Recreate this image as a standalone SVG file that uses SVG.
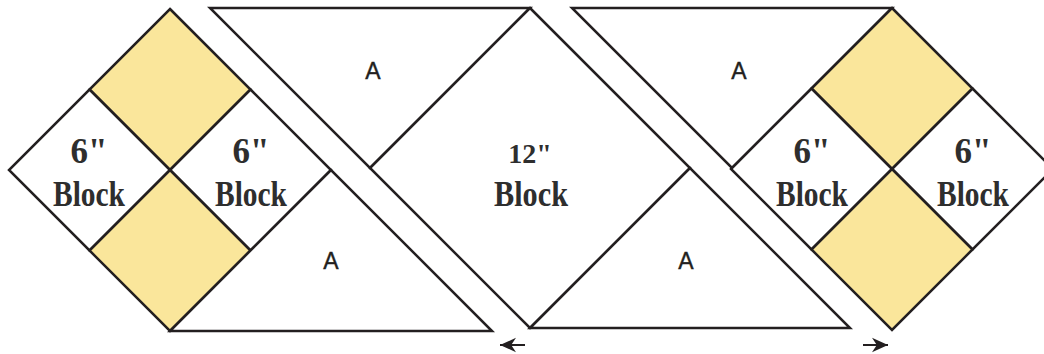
<svg xmlns="http://www.w3.org/2000/svg" width="1044" height="354" viewBox="0 0 1044 354">
<defs>
<style>
.p{fill:#fff;stroke:#231f20;stroke-width:2.5;stroke-linejoin:miter}
.y{fill:#fae69b;stroke:#231f20;stroke-width:2.5}
.t{font-family:"Liberation Serif","DejaVu Serif",serif;font-weight:bold;font-size:35px;fill:#2e2e2e;text-anchor:middle}
.s{font-size:28px}
.a{font-family:"Liberation Sans","Open Sans",sans-serif;font-size:23px;fill:#231f20;text-anchor:middle;stroke:#231f20;stroke-width:0.4}
.c{stroke:#231f20;stroke-width:2;fill:none}
</style>
<marker id="ah" viewBox="0 0 10 10" refX="10" refY="5" markerWidth="8" markerHeight="8" orient="auto" markerUnits="strokeWidth">
<path d="M0,0.5 L10,5 L0,9.5 L3,5 Z" fill="#231f20"/>
</marker>
</defs>
<rect width="1044" height="354" fill="#fff"/>
<g id="left-four-patch">
<polygon class="y" points="170,9 250.5,89.5 170,170 89.5,89.5"/>
<polygon class="p" points="89.5,89.5 170,170 89.5,250.5 9,170"/>
<polygon class="p" points="250.5,89.5 331,170 250.5,250.5 170,170"/>
<polygon class="y" points="170,170 250.5,250.5 170,331 89.5,250.5"/>
<text class="t" x="89" y="163">6"</text>
<text class="t" x="89" y="206" textLength="72" lengthAdjust="spacingAndGlyphs">Block</text>
<text class="t" x="251" y="163">6"</text>
<text class="t" x="251" y="206" textLength="72" lengthAdjust="spacingAndGlyphs">Block</text>
</g>
<g id="triangle-a-upper-left">
<polygon class="p" points="210,8 530,8 370,168"/>
<text class="a" x="373" y="79">A</text>
</g>
<g id="triangle-a-lower-left">
<polygon class="p" points="170,331 492,331 331,170"/>
<text class="a" x="331" y="269">A</text>
</g>
<g id="block-12">
<polygon class="p" points="530,8 690,168 530,328 370,168"/>
<text class="t s" x="530" y="163">12"</text>
<text class="t" x="531" y="206" textLength="74" lengthAdjust="spacingAndGlyphs">Block</text>
</g>
<g id="triangle-a-lower-right">
<polygon class="p" points="530,328 850,328 690,168"/>
<text class="a" x="686" y="269">A</text>
</g>
<g id="triangle-a-upper-right">
<polygon class="p" points="572,8 892,8 732,168"/>
<text class="a" x="739" y="79">A</text>
</g>
<g id="right-four-patch">
<polygon class="y" points="892,8 972.5,88.5 892,169 811.5,88.5"/>
<polygon class="p" points="811.5,88.5 892,169 811.5,249.5 731,169"/>
<polygon class="p" points="972.5,88.5 1053,169 972.5,249.5 892,169"/>
<polygon class="y" points="892,169 972.5,249.5 892,330 811.5,249.5"/>
<text class="t" x="812" y="163">6"</text>
<text class="t" x="812" y="206" textLength="72" lengthAdjust="spacingAndGlyphs">Block</text>
<text class="t" x="973" y="163">6"</text>
<text class="t" x="973" y="206" textLength="72" lengthAdjust="spacingAndGlyphs">Block</text>
</g>
<g id="connectors">
<line class="c" x1="525" y1="345" x2="500" y2="345" marker-end="url(#ah)"/>
<line class="c" x1="863" y1="345" x2="888" y2="345" marker-end="url(#ah)"/>
</g>
</svg>
